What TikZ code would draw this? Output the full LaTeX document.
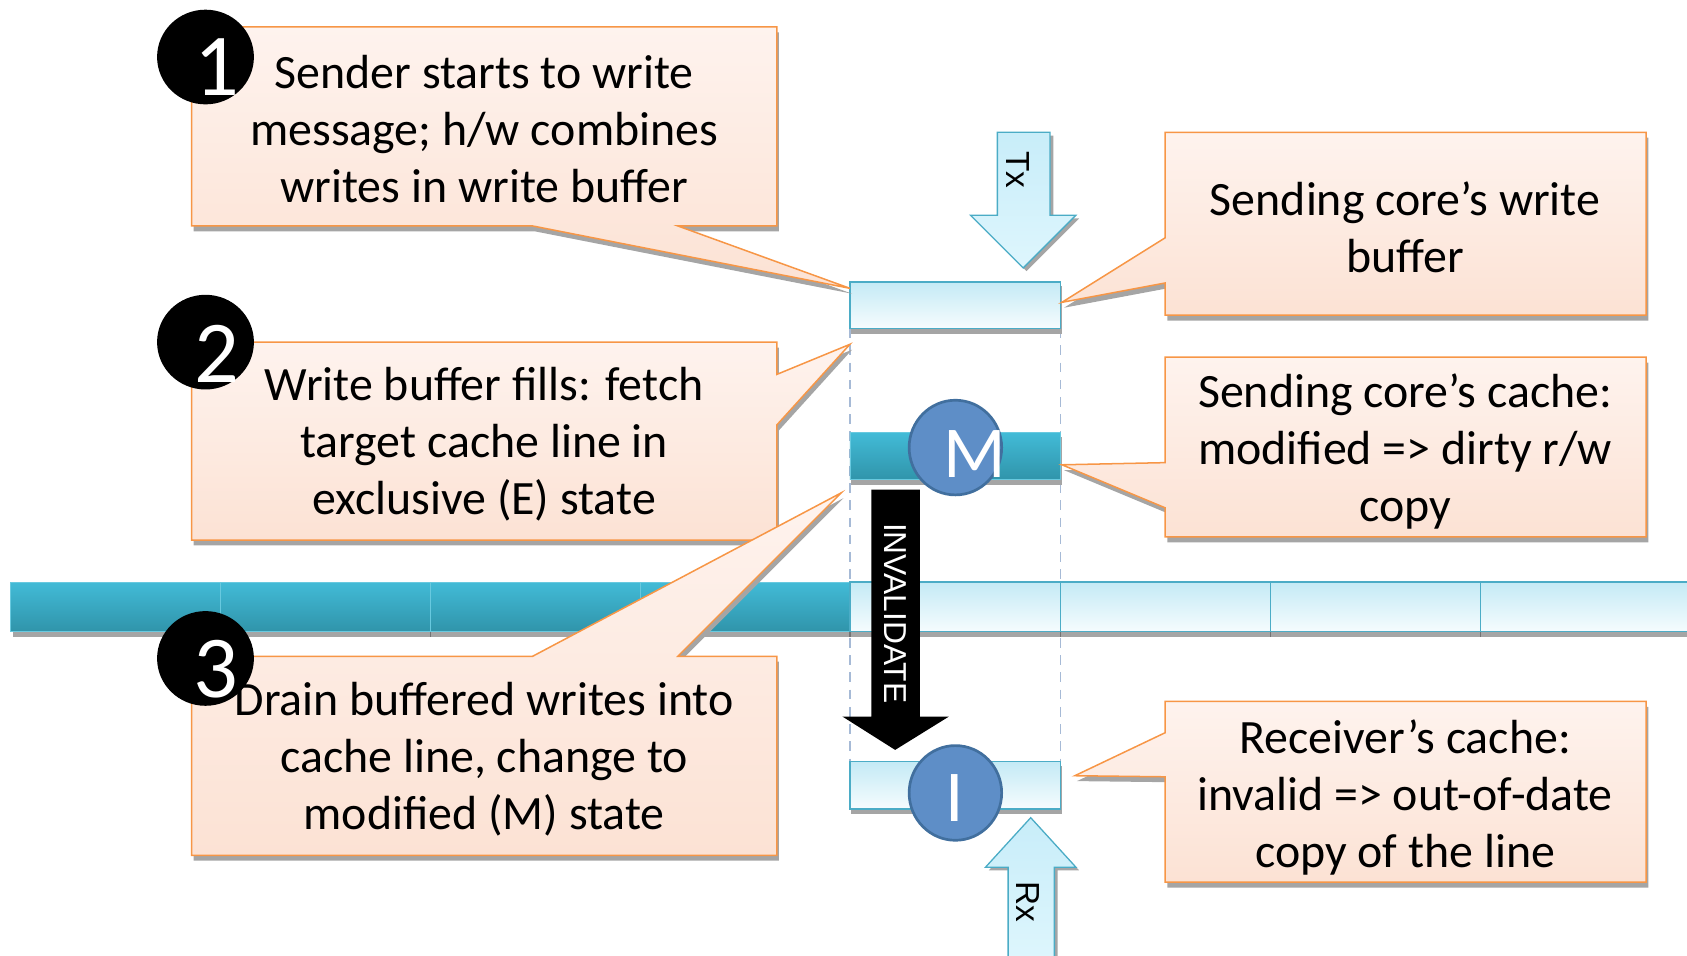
\documentclass[tikz,border=0pt]{standalone}
\usepackage{fontspec}
\setmainfont{Carlito}
\newfontfamily\arialf{Liberation Sans}
\usetikzlibrary{shapes.geometric}
\definecolor{callborder}{RGB}{247,150,70}
\definecolor{calltop}{RGB}{254,243,238}
\definecolor{callbot}{RGB}{252,226,212}
\definecolor{shadowc}{RGB}{165,165,165}
\definecolor{darktop}{RGB}{66,187,215}
\definecolor{darkbot}{RGB}{48,148,170}
\definecolor{lighttop}{RGB}{196,234,245}
\definecolor{lightbot}{RGB}{246,252,254}
\definecolor{barborder}{RGB}{75,172,198}
\definecolor{statefill}{RGB}{94,142,199}
\definecolor{stateborder}{RGB}{65,111,158}
\definecolor{dashc}{RGB}{166,186,214}
\definecolor{arrtop}{RGB}{200,237,249}
\definecolor{arrbot}{RGB}{222,246,253}
\tikzset{
  callout/.style={draw=callborder, line width=1.4pt, top color=calltop, bottom color=callbot, line join=miter},
  shad/.style={fill=shadowc, draw=none},
  darkbar/.style={draw=darktop!80!white, line width=0.8pt, top color=darktop, bottom color=darkbot},
  lightbar/.style={draw=barborder, line width=1.2pt, top color=lighttop, bottom color=lightbot},
  blockarrow/.style={draw=barborder, line width=1.2pt, top color=arrtop, bottom color=arrbot, line join=miter},
  statecirc/.style={ellipse, fill=statefill, draw=stateborder, line width=2.5pt, minimum width=86pt, minimum height=88pt, inner sep=0pt},
  numcirc/.style={ellipse, fill=black, minimum width=90pt, minimum height=88pt, inner sep=0pt},
  numtext/.style={text=white, font=\fontsize{82}{82}\selectfont, inner sep=0pt},
  calltext/.style={align=center, font=\fontsize{44.5}{53}\selectfont, inner sep=0pt},
  guide/.style={draw=dashc, line width=1pt, dash pattern=on 9pt off 7pt},
}
\begin{document}
\begin{tikzpicture}[x=1pt,y=-1pt]
\useasboundingbox (0,0) rectangle (1568,888);

% guide dashed lines
\coordinate (gl1) at (790,305); \coordinate (gl2) at (790,708);
\coordinate (gr1) at (986,305); \coordinate (gr2) at (986,708);
\draw[guide] (gl1) -- (gl2);
\draw[guide] (gr1) -- (gr2);

% bus bar
\fill[shad] (12,545) rectangle (1570,592);
\foreach \a/\b in {10/205,205/400,400/595,595/790}{
  \path[darkbar] (\a,541) rectangle (\b,587);
  \draw[black!55, line width=1pt] (\b,587) -- (\b,592);
}
\foreach \a/\b in {790/986,986/1181,1181/1376,1376/1575}{
  \path[lightbar] (\a,541) rectangle (\b,587);
  \draw[black!55, line width=1pt] (\b,587) -- (\b,592);
}

% write buffer, M line, I line
\fill[shad] (791,266) rectangle (987,310);
\path[lightbar] (790,262) rectangle (986,305);
\fill[shad] (791,406) rectangle (987,451);
\path[darkbar] (790,402) rectangle (986,446);
\fill[shad] (791,712) rectangle (987,757);
\path[lightbar] (790,708) rectangle (986,752);

% Tx arrow
\fill[shad, shift={(3,3)}] (927,123) -- (976,123) -- (976,200) -- (1000,200) -- (951,249) -- (902,200) -- (927,200) -- cycle;
\path[blockarrow] (927,123) -- (976,123) -- (976,200) -- (1000,200) -- (951,249) -- (902,200) -- (927,200) -- cycle;
\node[rotate=-90, font=\arialf\fontsize{31}{31}\selectfont, inner sep=0pt] (tx) at (946,158) {Tx};

% Rx arrow
\fill[shad, shift={(3,3)}] (937,895) -- (937,806) -- (916,806) -- (958,760) -- (1000,806) -- (980,806) -- (980,895) -- cycle;
\path[blockarrow] (937,895) -- (937,806) -- (916,806) -- (958,760) -- (1000,806) -- (980,806) -- (980,895) -- cycle;
\node[rotate=-90, font=\arialf\fontsize{31}{31}\selectfont, inner sep=0pt] (rx) at (955,838) {Rx};

% INVALIDATE arrow
\fill[black] (810,455) -- (855,455) -- (855,666) -- (882,666) -- (832,697) -- (783,666) -- (810,666) -- cycle;
\node[rotate=-90, text=white, font=\arialf\fontsize{29.5}{29.5}\selectfont, inner sep=0pt] (inv) at (832,570) {INVALIDATE};

% callout 1
\fill[shad, shift={(2,5)}] (178,25) -- (722,25) -- (722,210) -- (630,210) -- (790,268) -- (495,210) -- (178,210) -- cycle;
\path[callout] (178,25) -- (722,25) -- (722,210) -- (630,210) -- (790,268) -- (495,210) -- (178,210) -- cycle;
\node[calltext] (t1) at (450,120) {Sender starts to write\\message; h/w combines\\writes in write buffer};

% callout R1
\fill[shad, shift={(2,5)}] (1083,123) -- (1530,123) -- (1530,293) -- (1083,293) -- (1083,263) -- (987,281) -- (1083,221) -- cycle;
\path[callout] (1083,123) -- (1530,123) -- (1530,293) -- (1083,293) -- (1083,263) -- (987,281) -- (1083,221) -- cycle;
\node[calltext] (tr1) at (1306,211) {Sending core’s write\\buffer};

% callout 2
\fill[shad, shift={(2,5)}] (178,318) -- (722,318) -- (722,348) -- (790,320) -- (722,395) -- (722,502) -- (178,502) -- cycle;
\path[callout] (178,318) -- (722,318) -- (722,348) -- (790,320) -- (722,395) -- (722,502) -- (178,502) -- cycle;
\node[calltext] (t2) at (450,413) {Write buffer fills: fetch\\target cache line in\\exclusive (E) state};

% callout R2
\fill[shad, shift={(2,5)}] (1083,332) -- (1530,332) -- (1530,499) -- (1083,499) -- (1083,472) -- (987,432) -- (1083,430) -- cycle;
\path[callout] (1083,332) -- (1530,332) -- (1530,499) -- (1083,499) -- (1083,472) -- (987,432) -- (1083,430) -- cycle;
\node[calltext] (tr2) at (1306,420) {Sending core’s cache:\\modified => dirty r/w\\copy};

% callout 3
\fill[shad, shift={(2,5)}] (178,610) -- (495,610) -- (782,458) -- (630,610) -- (722,610) -- (722,795) -- (178,795) -- cycle;
\path[callout] (178,610) -- (495,610) -- (782,458) -- (630,610) -- (722,610) -- (722,795) -- (178,795) -- cycle;
\node[calltext] (t3) at (450,706) {Drain buffered writes into\\cache line, change to\\modified (M) state};

% callout R3
\fill[shad, shift={(2,5)}] (1083,652) -- (1530,652) -- (1530,820) -- (1083,820) -- (1083,722) -- (999,721) -- (1083,681) -- cycle;
\path[callout] (1083,652) -- (1530,652) -- (1530,820) -- (1083,820) -- (1083,722) -- (999,721) -- (1083,681) -- cycle;
\node[calltext] (tr3) at (1306,741) {Receiver’s cache:\\invalid => out-of-date\\copy of the line};

% state circles
\node[statecirc] (mc) at (888,416) {};
\node[text=white, font=\fontsize{68}{68}\selectfont, inner sep=0pt] (ml) at (906,422) {M};
\node[statecirc] (ic) at (888,737) {};
\node[text=white, font=\fontsize{68}{68}\selectfont, inner sep=0pt] (il) at (887,742) {I};

% number circles
\node[numcirc] (n1) at (191,53) {};
\node[numtext] (d1) at (202,62) {1};
\node[numcirc] (n2) at (191,318) {};
\node[numtext] (d2) at (202,329) {2};
\node[numcirc] (n3) at (191,612) {};
\node[numtext] (d3) at (201,622) {3};
\end{tikzpicture}
\end{document}
